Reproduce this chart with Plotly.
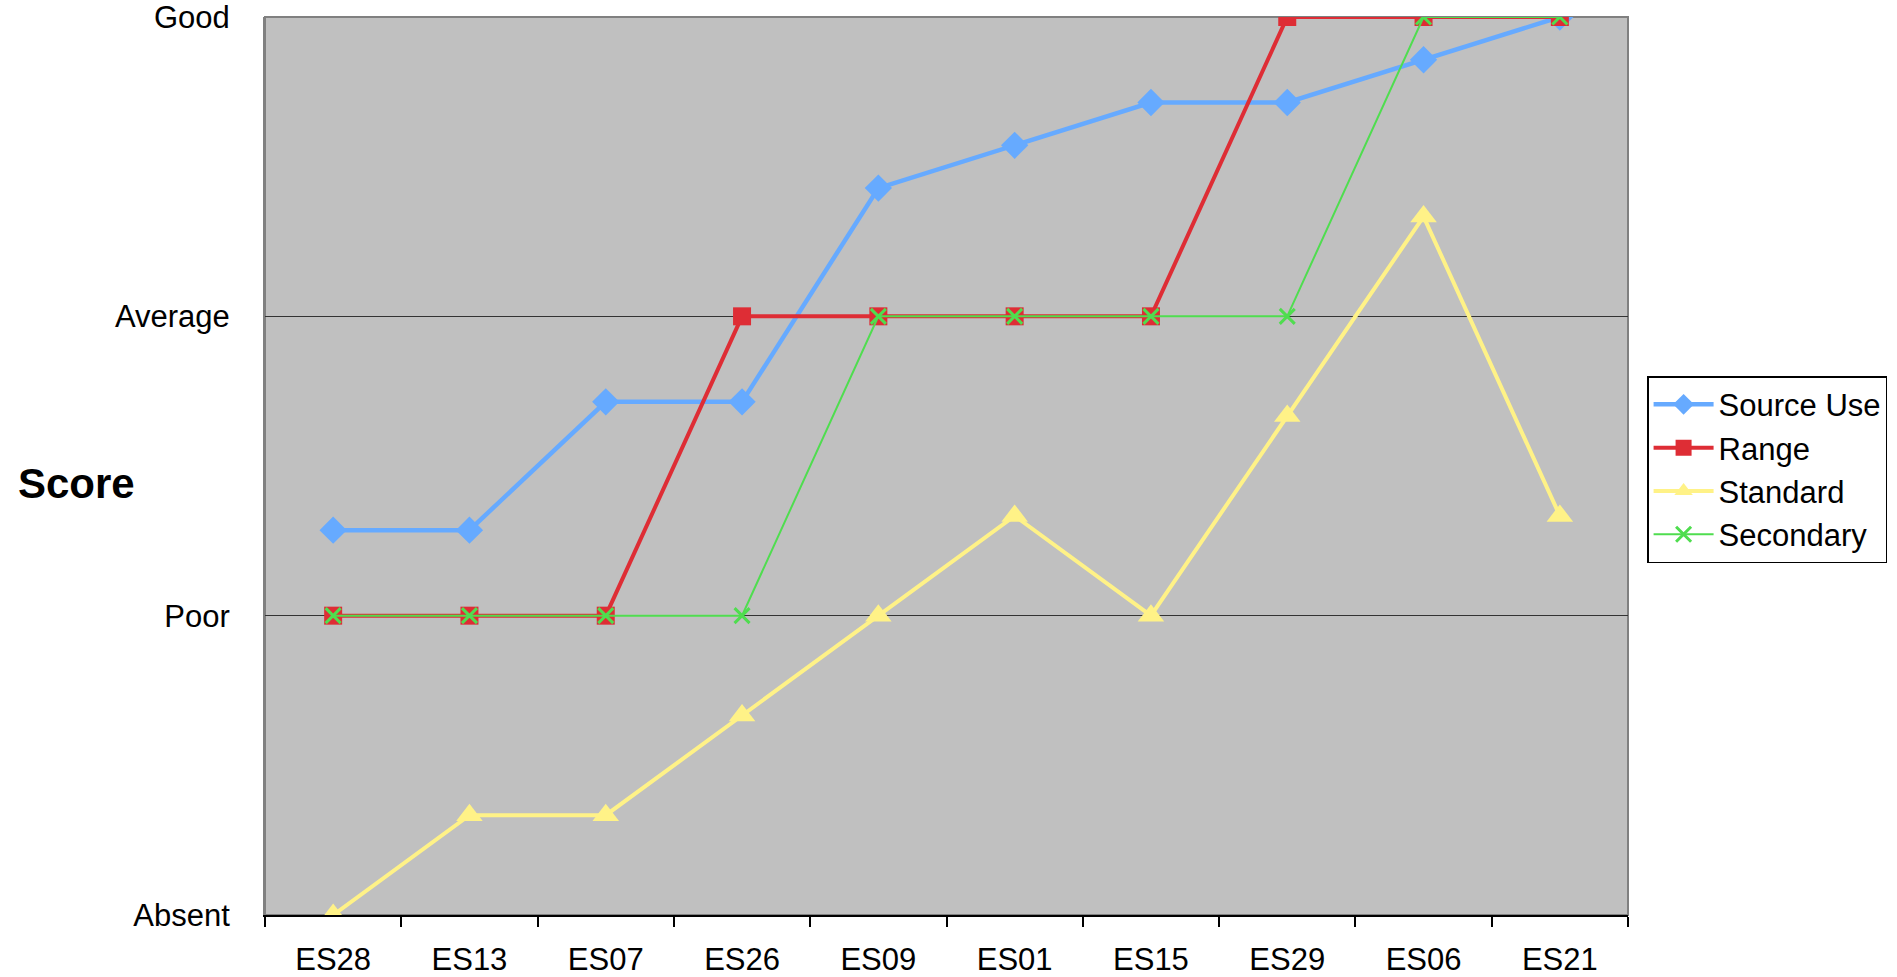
import plotly.graph_objects as go

categories = ["ES28", "ES13", "ES07", "ES26", "ES09", "ES01", "ES15", "ES29", "ES06", "ES21"]
source_use = [9/7, 9/7, 12/7, 12/7, 17/7, 18/7, 19/7, 19/7, 20/7, 3]
range_vals = [1, 1, 1, 2, 2, 2, 2, 3, 3, 3]
standard = [0, 1/3, 1/3, 2/3, 1, 4/3, 1, 5/3, 7/3, 4/3]
secondary = [1, 1, 1, 1, 2, 2, 2, 2, 3, 3]
y_tickvals = [0, 1, 2, 3]
y_ticktext = ["Absent", "Poor", "Average", "Good"]

FONT = "Liberation Sans, Arial, sans-serif"

fig = go.Figure()
fig.add_trace(go.Scatter(x=categories, y=source_use, name="Source Use", mode="lines+markers",
                         line=dict(color="#66AAFF", width=4.5),
                         marker=dict(symbol="diamond", size=21, color="#66AAFF")))
fig.add_trace(go.Scatter(x=categories, y=range_vals, name="Range", mode="lines+markers",
                         line=dict(color="#DE2D35", width=4),
                         marker=dict(symbol="square", size=18, color="#DE2D35")))
fig.add_trace(go.Scatter(x=categories, y=standard, name="Standard", mode="lines+markers",
                         line=dict(color="#FFF287", width=4),
                         marker=dict(symbol="triangle-up", size=23, color="#FFF287")))
fig.add_trace(go.Scatter(x=categories, y=secondary, name="Secondary", mode="lines+markers",
                         line=dict(color="#4FDD4F", width=2),
                         marker=dict(symbol="x-thin", size=15, line=dict(color="#4FDD4F", width=3))))

fig.update_layout(
    width=1897, height=977,
    margin=dict(l=265, r=269, t=17, b=62, autoexpand=False),
    paper_bgcolor="white", plot_bgcolor="#C0C0C0",
    font=dict(family=FONT, size=31, color="black"),
    showlegend=True,
    legend=dict(x=1.014, y=0.60, xanchor="left", yanchor="top",
                bgcolor="white", bordercolor="black", borderwidth=1.5,
                font=dict(family=FONT, size=31, color="black"),
                tracegroupgap=0, itemwidth=60),
    xaxis=dict(type="category", categoryorder="array", categoryarray=categories,
               range=[-0.5, 9.5], showgrid=False, zeroline=False, automargin=False,
               showline=True, linecolor="black", linewidth=1.5,
               ticks="outside", ticklen=10, tickcolor="black", tickwidth=1.5,
               tickson="boundaries", ticklabelstandoff=16, ticklabeloverflow="allow",
               tickfont=dict(family=FONT, size=31, color="black")),
    yaxis=dict(range=[0, 3], tickvals=y_tickvals, ticktext=y_ticktext, automargin=False,
               showgrid=True, gridcolor="#333333", gridwidth=1, zeroline=False,
               showline=True, linecolor="#808080", linewidth=2,
               ticks="", ticklabelstandoff=27, ticklabeloverflow="allow",
               tickfont=dict(family=FONT, size=31, color="black")),
    shapes=[dict(type="rect", xref="paper", yref="paper", x0=0, x1=1, y0=0, y1=1,
                 line=dict(color="#808080", width=2), fillcolor="rgba(0,0,0,0)", layer="below")],
    annotations=[dict(text="<b>Score</b>", xref="paper", yref="paper",
                      x=(16 - 265) / 1363, y=0.48, xanchor="left", yanchor="middle",
                      showarrow=False, font=dict(family=FONT, size=42, color="black"))],
)

fig.write_html("out.html")
